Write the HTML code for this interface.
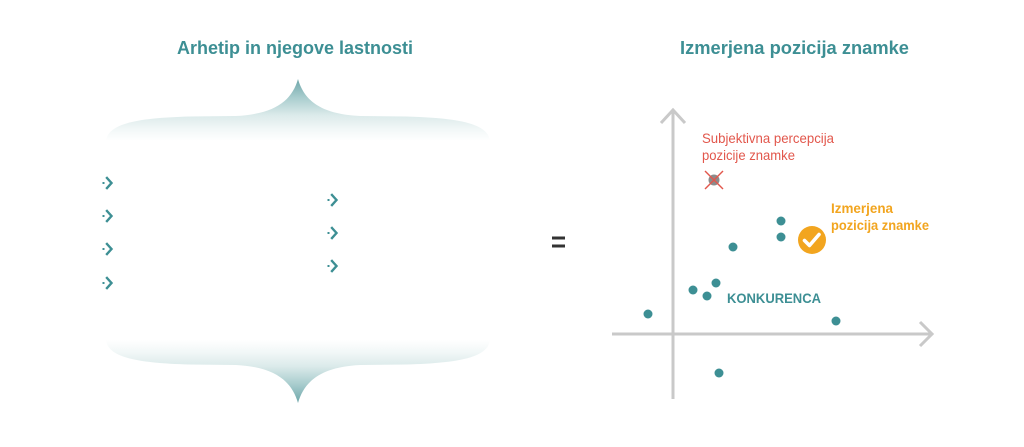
<!DOCTYPE html>
<html>
<head>
<meta charset="utf-8">
<style>
  html, body { margin:0; padding:0; background:#ffffff; }
  body { width:1024px; height:447px; overflow:hidden; }
  svg { display:block; }
  text { font-family: "Liberation Sans", "DejaVu Sans", sans-serif; }
</style>
</head>
<body>
<svg width="1024" height="447" viewBox="0 0 1024 447" xmlns="http://www.w3.org/2000/svg">
  <defs>
    <linearGradient id="gTop" x1="0" y1="79" x2="0" y2="141" gradientUnits="userSpaceOnUse">
      <stop offset="0" stop-color="#6ea7aa"/>
      <stop offset="0.3" stop-color="#a9cdce"/>
      <stop offset="0.58" stop-color="#dbeaea"/>
      <stop offset="0.8" stop-color="#f1f7f7"/>
      <stop offset="1" stop-color="#ffffff"/>
    </linearGradient>
    <linearGradient id="gBot" x1="0" y1="403" x2="0" y2="340" gradientUnits="userSpaceOnUse">
      <stop offset="0" stop-color="#6ea7aa"/>
      <stop offset="0.3" stop-color="#a9cdce"/>
      <stop offset="0.58" stop-color="#dbeaea"/>
      <stop offset="0.8" stop-color="#f1f7f7"/>
      <stop offset="1" stop-color="#ffffff"/>
    </linearGradient>
  </defs>

  <!-- Titles -->
  <text x="177" y="54" font-size="18" font-weight="bold" fill="#3d8f94" textLength="236" lengthAdjust="spacingAndGlyphs">Arhetip in njegove lastnosti</text>
  <text x="680" y="54" font-size="18" font-weight="bold" fill="#3d8f94" textLength="229" lengthAdjust="spacingAndGlyphs">Izmerjena pozicija znamke</text>

  <!-- Top brace -->
  <path d="M106,141 C108,124 135,118 190,116.5 L236,116 C276,114 292,100 298,79 C304,100 320,114 360,116 L406,116.5 C461,118 488,124 490,141 Z" fill="url(#gTop)"/>
  <!-- Bottom brace -->
  <path d="M106,340 C108,357 135,363 190,364.5 L236,365 C276,367 292,382 298,403 C304,382 320,367 360,365 L406,364.5 C461,363 488,357 490,340 Z" fill="url(#gBot)"/>

  <!-- Chevron bullets -->
  <g fill="none" stroke="#3d8f94" stroke-width="2.4" stroke-linecap="square">
    <polyline points="107,178 111.5,183 107,188"/>
    <polyline points="107,211 111.5,216 107,221"/>
    <polyline points="107,244 111.5,249 107,254"/>
    <polyline points="107,278 111.5,283 107,288"/>
    <polyline points="332,195 336.5,200 332,205"/>
    <polyline points="332,228 336.5,233 332,238"/>
    <polyline points="332,261 336.5,266 332,271"/>
  </g>
  <g fill="#3d8f94">
    <rect x="102.5" y="182" width="2" height="2"/>
    <rect x="102.5" y="215" width="2" height="2"/>
    <rect x="102.5" y="248" width="2" height="2"/>
    <rect x="102.5" y="282" width="2" height="2"/>
    <rect x="327.5" y="199" width="2" height="2"/>
    <rect x="327.5" y="232" width="2" height="2"/>
    <rect x="327.5" y="265" width="2" height="2"/>
  </g>

  <!-- Equals sign -->
  <rect x="552" y="236.5" width="13" height="3" fill="#333333"/>
  <rect x="552" y="244.5" width="13" height="3" fill="#333333"/>

  <!-- Axes -->
  <g fill="none" stroke="#c9c9c9" stroke-width="3" stroke-linecap="butt">
    <line x1="673" y1="110" x2="673" y2="399"/>
    <line x1="612" y1="334" x2="932" y2="334"/>
    <polyline points="661,123 673,110 685,123"/>
    <polyline points="920,322 932,334 920,346"/>
  </g>

  <!-- Red label -->
  <text x="702" y="143" font-size="14" fill="#e2574c" textLength="132" lengthAdjust="spacingAndGlyphs">Subjektivna percepcija</text>
  <text x="702" y="160" font-size="14" fill="#e2574c" textLength="93" lengthAdjust="spacingAndGlyphs">pozicije znamke</text>

  <!-- Gray dot with red X -->
  <circle cx="714" cy="180" r="5.5" fill="#8c8c8c"/>
  <g stroke="#e2574c" stroke-width="1.4">
    <line x1="705" y1="171" x2="723" y2="189"/>
    <line x1="723" y1="171" x2="705" y2="189"/>
  </g>

  <!-- Orange label -->
  <text x="831" y="213" font-size="13.5" font-weight="bold" fill="#f2a51f" textLength="62" lengthAdjust="spacingAndGlyphs">Izmerjena</text>
  <text x="831" y="230" font-size="13.5" font-weight="bold" fill="#f2a51f" textLength="98" lengthAdjust="spacingAndGlyphs">pozicija znamke</text>

  <!-- Orange check -->
  <circle cx="812" cy="240" r="14" fill="#f2a51f"/>
  <polyline points="804.5,240.5 809.5,245.5 819,234.5" fill="none" stroke="#ffffff" stroke-width="3.6" stroke-linecap="round" stroke-linejoin="round"/>

  <!-- Teal dots -->
  <g fill="#3d8f94">
    <circle cx="781" cy="221" r="4.5"/>
    <circle cx="781" cy="237" r="4.5"/>
    <circle cx="733" cy="247" r="4.5"/>
    <circle cx="693" cy="290" r="4.5"/>
    <circle cx="716" cy="283" r="4.5"/>
    <circle cx="707" cy="296" r="4.5"/>
    <circle cx="648" cy="314" r="4.5"/>
    <circle cx="836" cy="321" r="4.5"/>
    <circle cx="719" cy="373" r="4.5"/>
  </g>

  <!-- KONKURENCA -->
  <text x="727" y="303" font-size="14" font-weight="bold" fill="#3d8f94" textLength="94" lengthAdjust="spacingAndGlyphs">KONKURENCA</text>
</svg>
</body>
</html>
